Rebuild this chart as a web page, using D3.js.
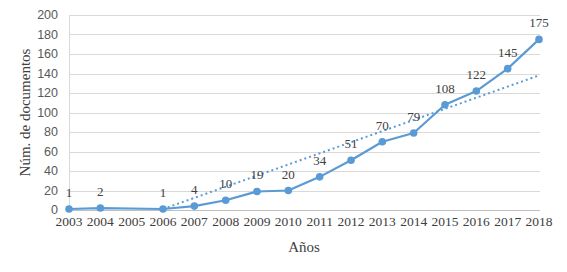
<!DOCTYPE html>
<html>
<head>
<meta charset="utf-8">
<script src="https://cdn.jsdelivr.net/npm/d3@7"></script>
<style>
  html, body { margin: 0; padding: 0; background: #fff; }
  svg { display: block; }
</style>
</head>
<body>
<div id="chart"></div>
<script>
const years = ["2003", "2004", "2005", "2006", "2007", "2008", "2009", "2010",
               "2011", "2012", "2013", "2014", "2015", "2016", "2017", "2018"];
const documents = [1, 2, null, 1, 4, 10, 19, 20, 34, 51, 70, 79, 108, 122, 145, 175];
const trendYears = ["2006", "2018"];
const trendValues = [1, 138];
const yTicks = [0, 20, 40, 60, 80, 100, 120, 140, 160, 180, 200];

const width = 567, height = 272;
const margin = { top: 15, right: 28, bottom: 62, left: 69 };
const innerW = width - margin.left - margin.right;
const innerH = height - margin.top - margin.bottom;

const svg = d3.select("#chart").append("svg")
    .attr("width", width)
    .attr("height", height);

const g = svg.append("g").attr("transform", `translate(${margin.left},${margin.top})`);

const x = d3.scalePoint().domain(years).range([0, innerW]);
const y = d3.scaleLinear().domain([0, 200]).range([innerH, 0]);

const serif = "'Liberation Serif', 'Times New Roman', serif";

// gridlines
g.selectAll("line.grid")
    .data(yTicks)
    .enter()
    .append("line")
    .attr("class", "grid")
    .attr("x1", 0)
    .attr("x2", innerW + 1)
    .attr("y1", d => Math.round(y(d)) + 0.5)
    .attr("y2", d => Math.round(y(d)) + 0.5)
    .attr("stroke", d => d === 0 ? "#bfbfbf" : "#d9d9d9")
    .attr("stroke-width", 1);

// left axis line
g.append("line")
    .attr("x1", 0.5).attr("x2", 0.5)
    .attr("y1", Math.round(y(200)) + 0.5)
    .attr("y2", Math.round(y(0)) + 0.5)
    .attr("stroke", "#d9d9d9");

// y tick labels
g.selectAll("text.ytick")
    .data(yTicks)
    .enter()
    .append("text")
    .attr("class", "ytick")
    .attr("x", -11)
    .attr("y", d => y(d))
    .attr("dy", "0.35em")
    .attr("text-anchor", "end")
    .attr("font-family", "'Liberation Sans', Arial, sans-serif")
    .attr("font-size", 12.5)
    .attr("fill", "#595959")
    .text(d => d);

// x tick labels
g.selectAll("text.xtick")
    .data(years)
    .enter()
    .append("text")
    .attr("class", "xtick")
    .attr("x", d => x(d))
    .attr("y", innerH + 16)
    .attr("text-anchor", "middle")
    .attr("font-family", serif)
    .attr("font-size", 13.5)
    .attr("fill", "#404040")
    .text(d => d);

// axis titles
g.append("text")
    .attr("x", innerW / 2)
    .attr("y", innerH + 42)
    .attr("text-anchor", "middle")
    .attr("font-family", serif)
    .attr("font-size", 15)
    .attr("fill", "#404040")
    .text("Años");

g.append("text")
    .attr("transform", `translate(${-39},${innerH / 2}) rotate(-90)`)
    .attr("text-anchor", "middle")
    .attr("font-family", serif)
    .attr("font-size", 15)
    .attr("fill", "#404040")
    .text("Núm. de documentos");

const points = years
    .map((yr, i) => ({ year: yr, value: documents[i] }))
    .filter(d => d.value !== null);

const color = "#5b9bd5";

// trend line (dotted)
const trend = trendYears.map((yr, i) => ({ year: yr, value: trendValues[i] }));
g.append("path")
    .datum(trend)
    .attr("fill", "none")
    .attr("stroke", color)
    .attr("stroke-width", 2)
    .attr("stroke-dasharray", "2,3")
    .attr("d", d3.line().x(d => x(d.year)).y(d => y(d.value)));

// main line
g.append("path")
    .datum(points)
    .attr("fill", "none")
    .attr("stroke", color)
    .attr("stroke-width", 2.2)
    .attr("stroke-linejoin", "round")
    .attr("d", d3.line().x(d => x(d.year)).y(d => y(d.value)));

g.selectAll("circle.pt")
    .data(points)
    .enter()
    .append("circle")
    .attr("class", "pt")
    .attr("cx", d => x(d.year))
    .attr("cy", d => y(d.value))
    .attr("r", 3.8)
    .attr("fill", color);

// data labels
g.selectAll("text.lbl")
    .data(points)
    .enter()
    .append("text")
    .attr("class", "lbl")
    .attr("x", d => x(d.year))
    .attr("y", d => y(d.value) - 12)
    .attr("text-anchor", "middle")
    .attr("font-family", serif)
    .attr("font-size", 13)
    .attr("fill", "#404040")
    .text(d => d.value);
</script>
</body>
</html>
